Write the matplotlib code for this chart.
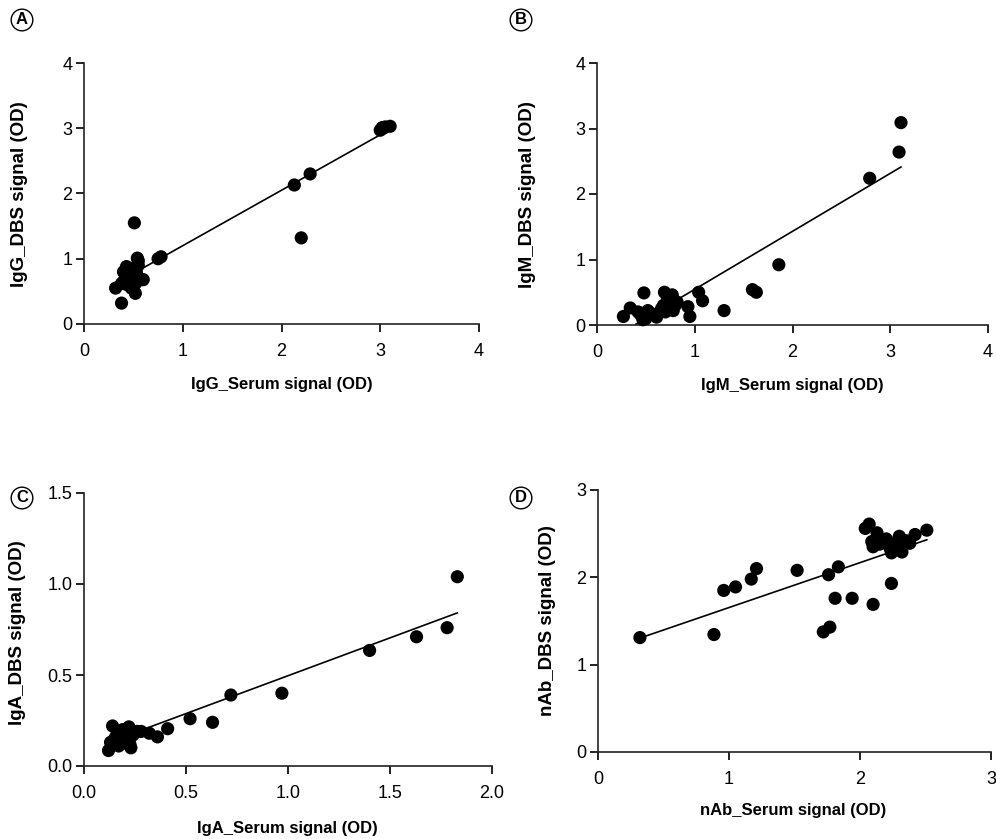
"""Serum vs DBS antibody signal scatter plots with linear fits (panels A-D)."""

import matplotlib

matplotlib.use("Agg")

import matplotlib.pyplot as plt
import numpy as np

plt.rcParams["font.family"] = ["Liberation Sans", "DejaVu Sans"]

# ---- data ----
igg_serum = [0.51, 2.20, 2.13, 2.29, 0.75, 0.78, 0.54, 0.38, 0.32, 0.52,
             3.00, 3.02, 3.05, 3.10, 3.03,
             0.40, 0.42, 0.45, 0.40, 0.44, 0.48, 0.50, 0.47, 0.52, 0.55,
             0.53, 0.56, 0.58, 0.45, 0.50, 0.43, 0.55, 0.60, 0.48, 0.38]
igg_dbs = [1.55, 1.32, 2.13, 2.30, 1.00, 1.03, 1.01, 0.32, 0.55, 0.47,
           2.97, 3.01, 3.02, 3.03, 3.00,
           0.65, 0.72, 0.80, 0.80, 0.60, 0.68, 0.75, 0.85, 0.62, 0.90,
           0.80, 0.70, 0.68, 0.70, 0.58, 0.88, 0.97, 0.68, 0.55, 0.62]

igm_serum = [0.27, 0.34, 0.48, 0.42, 0.45, 0.50, 0.52, 0.55, 0.47, 0.61,
             0.69, 0.77, 0.68, 0.72, 0.75, 0.70, 0.80, 0.78, 0.72, 0.82,
             0.66, 0.93, 0.95, 1.04, 1.08, 1.30, 1.59, 1.63, 1.86,
             2.79, 3.09, 3.11]
igm_dbs = [0.13, 0.26, 0.49, 0.20, 0.15, 0.10, 0.22, 0.18, 0.08, 0.12,
           0.50, 0.46, 0.30, 0.38, 0.25, 0.20, 0.30, 0.22, 0.42, 0.35,
           0.25, 0.28, 0.13, 0.50, 0.37, 0.22, 0.54, 0.50, 0.92,
           2.24, 2.64, 3.09]

iga_serum = [1.83, 1.78, 1.63, 1.40, 0.72, 0.97, 0.63, 0.52, 0.41, 0.36,
             0.32, 0.12, 0.14, 0.22, 0.225, 0.15, 0.18, 0.20, 0.24, 0.26,
             0.17, 0.13, 0.19, 0.28, 0.21, 0.16, 0.23]
iga_dbs = [1.04, 0.76, 0.71, 0.635, 0.39, 0.40, 0.24, 0.26, 0.205, 0.16,
           0.18, 0.085, 0.22, 0.215, 0.12, 0.15, 0.12, 0.18, 0.17, 0.19,
           0.11, 0.13, 0.20, 0.19, 0.14, 0.17, 0.10]

nab_serum = [0.32, 0.885, 0.96, 1.05, 1.17, 1.21, 1.52, 1.76, 1.835, 1.72,
             1.77, 1.81, 1.94, 2.10, 2.24, 2.04, 2.07, 2.13, 2.09, 2.10,
             2.20, 2.23, 2.24, 2.30, 2.32, 2.32, 2.38, 2.42, 2.51, 2.27,
             2.35, 2.15]
nab_dbs = [1.31, 1.345, 1.85, 1.89, 1.98, 2.10, 2.08, 2.03, 2.12, 1.375,
           1.43, 1.76, 1.76, 1.69, 1.93, 2.56, 2.61, 2.51, 2.41, 2.35,
           2.44, 2.33, 2.28, 2.47, 2.37, 2.29, 2.39, 2.49, 2.54, 2.40,
           2.42, 2.38]

# fitted lines as shown in the figure: (slope, intercept)
fit_igg = (0.85, 0.35)
fit_igm = (0.885, -0.34)
fit_iga = (0.416, 0.08)
fit_nab = (0.514, 1.14)

W, H = 996, 839


def px_axes(fig, left, right, top, bottom):
    """Add an axes given its box in reference pixel coordinates."""
    return fig.add_axes([left / W, 1 - bottom / H, (right - left) / W, (bottom - top) / H])


def draw_panel(ax, xs, ys, fit, xlim, ylim, xticks, yticks, fmt, xlabel, ylabel,
               xlab_px, ylab_px):
    xs = np.asarray(xs)
    ys = np.asarray(ys)
    slope, icpt = fit
    lx = np.linspace(xs.min(), xs.max(), 200)
    ly = slope * lx + icpt
    keep = ly >= ylim[0]
    ax.plot(lx[keep], ly[keep], color="black", lw=1.2, zorder=2)
    ax.scatter(xs, ys, s=90, color="black", edgecolors="none", zorder=3, clip_on=False)

    ax.set_xlim(*xlim)
    ax.set_ylim(*ylim)
    ax.set_xticks(xticks)
    ax.set_yticks(yticks)
    ax.set_xticklabels([fmt.format(t) for t in xticks])
    ax.set_yticklabels([fmt.format(t) for t in yticks])
    for side in ("top", "right"):
        ax.spines[side].set_visible(False)
    for side in ("left", "bottom"):
        ax.spines[side].set_linewidth(1.2)
        ax.spines[side].set_color("#222222")
    ax.tick_params(direction="out", length=5.5, width=1.4, color="#222222", labelsize=13)
    ax.tick_params(axis="x", pad=8)
    ax.tick_params(axis="y", pad=3)

    ax.set_xlabel(xlabel, fontsize=12, fontweight="bold")
    ax.set_ylabel(ylabel, fontsize=13.5, fontweight="bold")
    # place axis titles at the pixel centres seen in the reference
    bb = ax.get_position()
    to_ax = lambda px, py: ((px / W - bb.x0) / bb.width, ((1 - py / H) - bb.y0) / bb.height)
    ax.xaxis.label.set_va("center")
    ax.xaxis.set_label_coords(*to_ax(*xlab_px))
    ax.yaxis.label.set_va("center")
    ax.yaxis.set_label_coords(*to_ax(*ylab_px))


def panel_letter(fig, x, y, letter):
    fig.text(x / W, 1 - y / H, letter, ha="center", va="center", fontsize=12,
             fontweight="bold",
             bbox=dict(boxstyle="circle,pad=0.2", fc="white", ec="black", lw=1.0))


fig = plt.figure(figsize=(W / 100, H / 100), dpi=100)

ax_a = px_axes(fig, 84, 479, 63, 324)
draw_panel(ax_a, igg_serum, igg_dbs, fit_igg, (0, 4), (0, 4), [0, 1, 2, 3, 4], [0, 1, 2, 3, 4],
           "{:g}", "IgG_Serum signal (OD)", "IgG_DBS signal (OD)", (282, 385), (20, 194))

ax_b = px_axes(fig, 597, 988, 63, 325)
draw_panel(ax_b, igm_serum, igm_dbs, fit_igm, (0, 4), (0, 4), [0, 1, 2, 3, 4], [0, 1, 2, 3, 4],
           "{:g}", "IgM_Serum signal (OD)", "IgM_DBS signal (OD)", (792, 386), (527, 195))

ax_c = px_axes(fig, 84, 492, 493, 766)
draw_panel(ax_c, iga_serum, iga_dbs, fit_iga, (0, 2), (0, 1.5), [0, 0.5, 1.0, 1.5, 2.0],
           [0, 0.5, 1.0, 1.5], "{:.1f}", "IgA_Serum signal (OD)", "IgA_DBS signal (OD)",
           (287, 828), (18, 633))

ax_d = px_axes(fig, 598, 991, 490, 752)
draw_panel(ax_d, nab_serum, nab_dbs, fit_nab, (0, 3), (0, 3), [0, 1, 2, 3], [0, 1, 2, 3],
           "{:g}", "nAb_Serum signal (OD)", "nAb_DBS signal (OD)", (793, 810), (548, 621))

panel_letter(fig, 22, 20, "A")
panel_letter(fig, 521, 20, "B")
panel_letter(fig, 22, 498, "C")
panel_letter(fig, 521, 498, "D")

fig.savefig("out.png", dpi=100)
